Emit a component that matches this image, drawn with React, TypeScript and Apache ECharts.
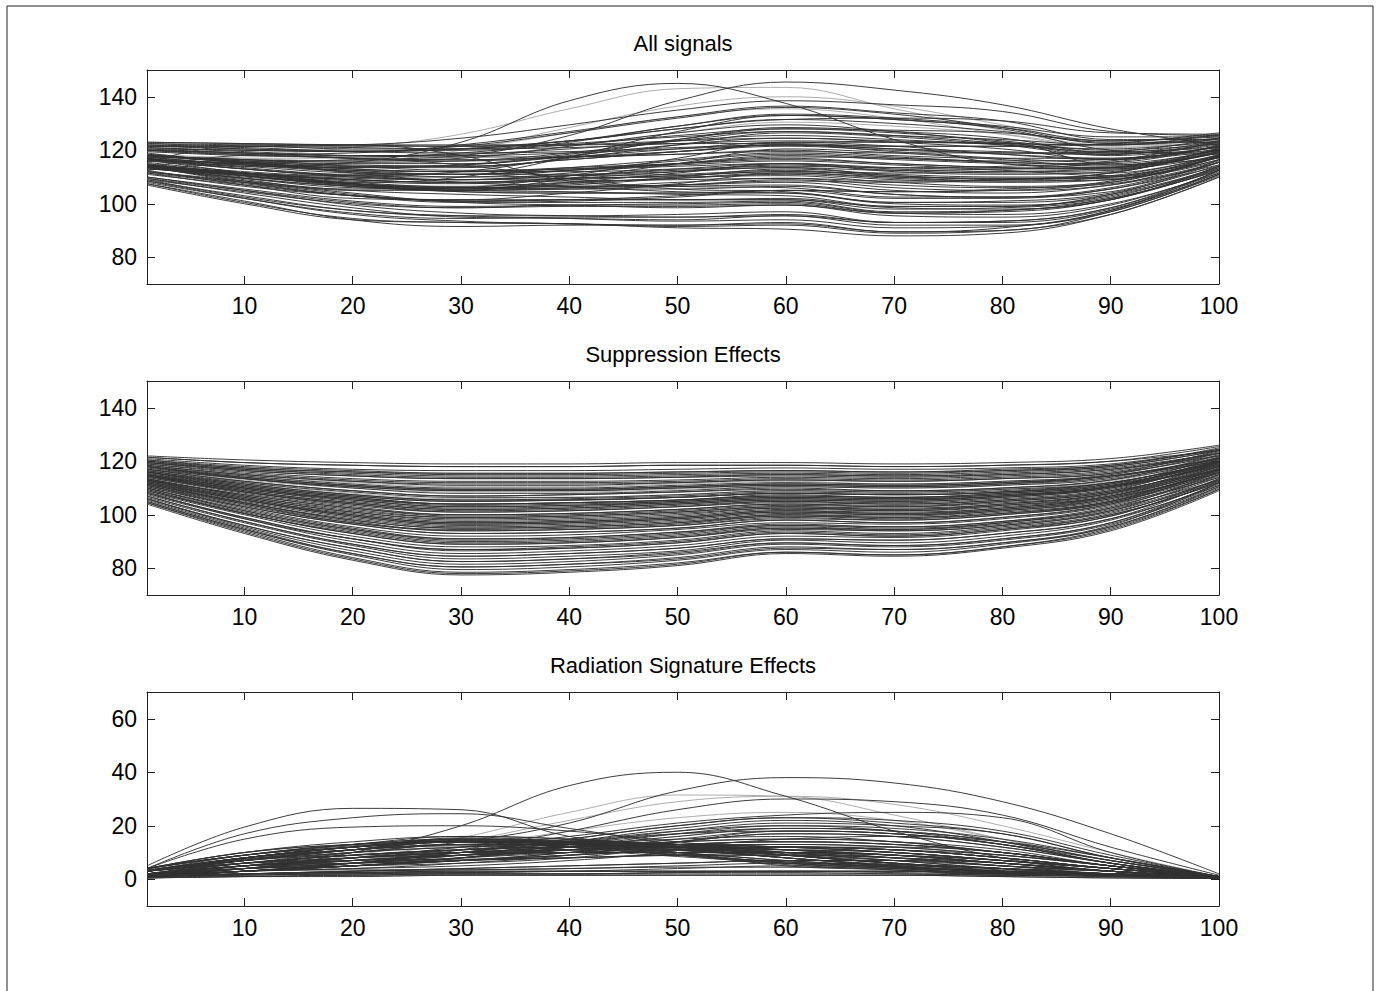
import React, { useEffect, useRef } from "react";
import * as echarts from "echarts";

const xPositions = [1, 10, 20, 30, 40, 50, 60, 70, 80, 90, 100];
const xTicks = [10, 20, 30, 40, 50, 60, 70, 80, 90, 100];
const yTicksSignal = [80, 100, 120, 140];
const yTicksRadiation = [0, 20, 40, 60];
const titles = ["All signals", "Suppression Effects", "Radiation Signature Effects"];

// Suppression effect curves, sampled at xPositions
const suppression: number[][] = [
  [122, 120.5, 119.5, 119, 119, 119.5, 119.5, 119, 119.5, 121, 126],
  [121.5, 119.5, 118.5, 118, 118, 118.5, 118.5, 118, 118.5, 120, 125.5],
  [121, 118.5, 117, 116.5, 116.5, 117, 117.5, 117, 117.5, 119, 124.5],
  [120.5, 118, 116.5, 115.5, 115.5, 116, 116.5, 116, 117, 118.5, 125],
  [120, 117, 115.5, 114.5, 114.5, 115, 115.5, 115, 116, 118, 124],
  [119.5, 116.5, 114.5, 113.5, 113.5, 114, 115, 114.5, 115, 117, 123],
  [119, 116, 113.5, 112.5, 112.5, 113, 114, 113.5, 114.5, 116.5, 123.5],
  [118.5, 115, 112.5, 111.5, 111.5, 112, 113, 112.5, 113.5, 115.5, 122],
  [118.5, 114.5, 112, 110.5, 110.5, 111.5, 112.5, 111.5, 112.5, 115, 122.5],
  [118, 114, 111, 109.5, 109.5, 110.5, 111.5, 111, 112, 114.5, 121],
  [117.5, 113, 110, 108.5, 108.5, 109.5, 110.5, 110, 111, 114, 122],
  [117, 112.5, 109, 107, 107.5, 108.5, 110, 109, 110, 113, 120.5],
  [116.5, 112, 108, 106, 106.5, 107.5, 109, 108.5, 109.5, 112.5, 121],
  [116, 111, 107, 105, 105.5, 106.5, 108, 107.5, 108.5, 112, 119.5],
  [115.5, 110.5, 106.5, 104, 104.5, 105.5, 107.5, 106.5, 108, 111, 120],
  [115, 110, 105.5, 103, 103.5, 105, 106.5, 106, 107, 110.5, 118.5],
  [115, 109, 104.5, 102, 102.5, 104, 105.5, 105, 106.5, 110, 119],
  [114.5, 108.5, 104, 101, 101.5, 103, 105, 104, 105.5, 109, 120],
  [114, 108, 103, 100, 100.5, 102, 104, 103, 105, 108.5, 118.5],
  [113.5, 107, 102, 99, 99.5, 101, 103, 102.5, 104, 108, 117],
  [113, 106.5, 101, 98, 98.5, 100, 102.5, 101.5, 103.5, 107.5, 117.5],
  [112.5, 106, 100, 97, 97.5, 99, 101.5, 101, 102.5, 107, 118],
  [112, 105, 99, 96, 96.5, 98, 100.5, 100, 101.5, 106, 116.5],
  [111.5, 104.5, 98, 95, 95.5, 97, 100, 99, 101, 105, 115.5],
  [111, 104, 97.5, 94, 94.5, 96, 99, 98, 100, 104.5, 116],
  [111, 103, 96.5, 93, 93.5, 95, 98, 97, 99, 104, 117],
  [110.5, 102.5, 95.5, 92, 92.5, 94.5, 97, 96.5, 98.5, 103.5, 115],
  [110, 102, 95, 91, 91.5, 93.5, 96.5, 95.5, 97.5, 103, 114.5],
  [109.5, 101, 94, 90, 90.5, 92.5, 95.5, 94.5, 97, 102, 114],
  [109, 100.5, 93, 89, 89.5, 91.5, 95, 94, 96, 101.5, 115],
  [108.5, 100, 92, 88, 88.5, 90.5, 94, 93, 95.5, 100.5, 113.5],
  [108, 99, 91, 87, 87.5, 89.5, 93, 92, 94.5, 100, 112],
  [107.5, 98.5, 90, 85.5, 86.5, 88.5, 92, 91.5, 94, 99.5, 112.5],
  [107, 97.5, 89, 84.5, 85.5, 87.5, 91, 90.5, 93, 98.5, 113],
  [106.5, 97, 88.5, 83.5, 84.5, 86.5, 90.5, 89.5, 92, 98, 111.5],
  [106, 96, 87.5, 82.5, 83.5, 86, 89.5, 88.5, 91, 97, 111],
  [106, 95.5, 86.5, 81.5, 82.5, 85, 89, 88, 90.5, 96.5, 110.5],
  [105.5, 95, 85.5, 80.5, 81.5, 84, 88, 87, 89.5, 96, 112],
  [105, 94.5, 85, 79.5, 80.5, 83, 87, 86, 89, 95.5, 110],
  [104.5, 94, 84, 78.5, 79.5, 82, 86, 85, 88, 95, 109.5],
  [104, 93, 83, 77.5, 78.5, 81, 85.5, 84.5, 87.5, 94, 109],
  [117, 113.5, 110.5, 109, 109, 110, 111, 110.5, 111.5, 114, 121.5],
  [116, 111.5, 107.5, 105.5, 106, 107, 108.5, 108, 109, 112, 120],
  [114.5, 109.5, 105, 102.5, 103, 104.5, 106, 105.5, 107, 110.5, 119.5],
  [113.5, 107.5, 102.5, 99.5, 100, 101.5, 103.5, 103, 104.5, 108, 118],
  [112.5, 105.5, 99.5, 96.5, 97, 98.5, 101, 100.5, 102, 106.5, 117],
  [111.5, 104, 97, 94.5, 95, 96.5, 99.5, 98.5, 100.5, 105, 116.5],
  [119, 115.5, 113, 112, 112, 112.5, 113.5, 113, 114, 116, 123],
  [110, 101.5, 94.5, 90.5, 91, 93, 96, 95, 97, 102.5, 113],
  [118, 113.5, 110.5, 109, 109, 110, 111, 110.5, 111.5, 114.5, 121],
  [121.5, 119.5, 118.5, 118, 118, 118.5, 118.5, 118, 118.5, 120, 124],
  [120.5, 117.5, 116, 115, 115, 115.5, 116, 115.5, 116.5, 118.5, 124.5],
  [119.5, 116.5, 114.5, 113.5, 113.5, 114, 114.5, 114, 115, 117, 122],
  [118.5, 115, 112.5, 111, 111, 112, 113, 112.5, 113.5, 115.5, 124],
  [118, 114, 111, 109.5, 109.5, 110.5, 111.5, 111, 112, 114.5, 120],
  [117, 112.5, 109, 107, 107.5, 108.5, 109.5, 109, 110, 113, 122.5],
  [116, 111, 107, 105, 105.5, 106.5, 108, 107.5, 108.5, 111.5, 119],
  [115, 109.5, 105.5, 103, 103.5, 104.5, 106, 105.5, 107, 110.5, 121],
  [114.5, 108.5, 103.5, 101, 101.5, 103, 104.5, 104, 105.5, 109, 117],
  [113.5, 107, 101.5, 99, 99.5, 101, 103, 102, 104, 108, 119.5],
  [112.5, 105.5, 100, 97, 97.5, 99, 101.5, 100.5, 102.5, 106.5, 115.5],
  [111.5, 104.5, 98, 95, 95.5, 97, 99.5, 99, 100.5, 105, 117.5],
  [110.5, 103, 96.5, 93, 93.5, 95, 98, 97, 99, 104, 114],
  [110, 101.5, 94.5, 91, 91.5, 93.5, 96, 95.5, 97.5, 102.5, 116],
  [109, 100.5, 93, 89, 89.5, 91.5, 94.5, 94, 96, 101, 112.5],
  [108, 99, 91, 86.5, 87.5, 89.5, 93, 92, 94.5, 99.5, 113.5],
  [107, 97.5, 89, 84.5, 85.5, 87.5, 91, 90.5, 93, 98.5, 111],
  [106, 96, 87.5, 82.5, 83.5, 85.5, 89.5, 88.5, 91, 97, 112],
  [105, 94.5, 85.5, 80.5, 81.5, 83.5, 87.5, 87, 89.5, 95.5, 110.5],
  [104.5, 93.5, 83.5, 78, 79, 81.5, 86, 85, 88, 94.5, 109.5],
  [119.5, 117, 115, 114, 114, 114.5, 115, 114.5, 115.5, 117.5, 123],
  [118, 114.5, 111.5, 110, 110, 111, 112, 111.5, 112.5, 115, 123],
  [117.5, 113.5, 110, 108, 108, 109, 110.5, 110, 111, 113.5, 121],
  [116.5, 112, 108.5, 106.5, 106.5, 107.5, 109, 108.5, 109.5, 112, 120],
  [115.5, 110, 106, 104, 104.5, 105.5, 107, 106.5, 107.5, 110.5, 118],
  [114, 108.5, 104, 101.5, 102, 103.5, 105, 104.5, 106, 109.5, 119],
  [113, 106.5, 101, 98.5, 99, 100.5, 102.5, 102, 103.5, 107, 117],
  [112, 105.5, 99.5, 96.5, 97, 98.5, 101, 100, 102, 106, 116],
  [116.5, 111.5, 107.5, 105.5, 105.5, 106.5, 108, 107.5, 108.5, 111.5, 121.5],
  [115, 110, 106, 103.5, 104, 105, 106.5, 106, 107.5, 110.5, 120.5],
  [113, 107.5, 102.5, 100, 100.5, 102, 104, 103.5, 105, 108.5, 118],
  [111, 103.5, 97, 94, 94.5, 96, 98.5, 98, 100, 104.5, 115],
  [109.5, 100.5, 93.5, 89.5, 90, 92, 95, 94.5, 96.5, 101.5, 113],
  [108.5, 98.5, 91, 87, 88, 90, 93.5, 92.5, 95, 100, 112],
  [117.5, 114, 111, 109.5, 109.5, 110.5, 111.5, 111, 112, 114.5, 121.5],
  [114.5, 109, 104.5, 102, 102.5, 104, 105.5, 105, 106.5, 110, 118.5],
  [112, 104.5, 98.5, 95.5, 96, 97.5, 100, 99.5, 101.5, 105.5, 116.5],
  [120, 117.5, 116, 115.5, 115.5, 116, 116.5, 116, 116.5, 118, 124],
  [116, 110.5, 106.5, 104, 104.5, 105.5, 107, 106.5, 108, 111, 119.5],
  [113, 106, 100.5, 97.5, 98, 99.5, 102, 101.5, 103, 107, 117],
];

// Radiation signature curves, sampled at xPositions (paired with suppression by index)
const radiation: number[][] = [
  [1, 2, 2.5, 3, 3, 3, 3, 2.5, 2, 1.5, 0.5],
  [1.5, 3, 3.5, 3.5, 4, 5, 6, 5.5, 4, 2, 0.5],
  [1, 3, 5, 8, 13, 18, 21, 20, 17, 8, 1],
  [2, 4, 5, 6, 8, 12, 15, 16, 14, 8, 1],
  [1, 3, 4, 6, 9, 14, 18, 17, 13, 7, 1],
  [2, 5, 6, 7, 9, 11, 12, 11, 9, 5, 1],
  [1.5, 4, 6, 9, 14, 19, 22, 20, 14, 6, 1],
  [3, 6, 7, 7.5, 8, 9, 9, 8, 6, 3, 1],
  [1, 4, 9, 15.5, 25, 31.5, 31, 24, 15, 7, 1],
  [2, 5, 6, 7, 8, 9, 10, 9, 7, 4, 1],
  [1, 4, 7, 12, 18, 23, 25, 22, 15, 7, 1],
  [3, 6, 8, 9, 10, 10, 10, 9, 7, 4, 1],
  [1, 4, 8, 14, 22, 29, 31, 28, 20, 10, 1],
  [2, 5, 7, 9, 11, 13, 14, 13, 10, 5, 1],
  [1, 5, 10, 14, 21, 33, 38, 36, 29, 17, 2],
  [2, 4, 10, 20, 35, 40, 31, 18, 8, 3, 1],
  [2, 4, 6, 8, 10, 12, 13, 12, 9, 5, 1],
  [3, 6, 8, 10, 11, 12, 12, 11, 8, 4, 1],
  [2, 5, 7, 9, 10, 11, 11, 10, 7, 4, 1],
  [1, 3, 6, 11, 18, 26, 30, 29, 24, 12, 1.5],
  [2, 5, 8, 10, 11, 12, 12, 11, 8, 4, 1],
  [1, 3, 5, 8, 12, 16, 19, 18, 14, 7, 1],
  [4, 10, 13, 14, 14, 13, 12, 10, 7, 4, 1],
  [2, 6, 9, 11, 12, 13, 13, 12, 9, 5, 1],
  [1, 4, 8, 12, 16, 21, 24, 25, 23, 10, 1],
  [3, 8, 11, 13, 13, 12, 11, 9, 6, 3, 1],
  [5, 19.5, 26.5, 26, 16, 12, 9, 6, 4, 2, 0.5],
  [3, 9, 13, 15, 14, 12, 10, 8, 5, 3, 1],
  [4, 17, 23, 24.5, 19, 13, 9, 6, 4, 2, 0.5],
  [4, 10, 14, 16, 15, 12, 8, 5, 3, 2, 0.5],
  [4, 15, 19.5, 20, 18, 14, 10, 7, 4, 2, 0.5],
  [3, 8, 12, 14, 13, 11, 8, 5, 3, 2, 0.5],
  [4, 9, 13, 16, 15, 13, 10, 7, 4, 2, 0.5],
  [2, 7, 11, 14, 14, 12, 9, 6, 4, 3, 0.5],
  [3, 8, 12, 15, 14.5, 12.5, 9, 6, 3, 1.5, 0.5],
  [4, 9, 12, 14, 12, 9, 6.5, 4.5, 2.5, 1.5, 0.5],
  [3, 7, 11, 14, 13, 11, 8, 5, 2.5, 1.5, 0.5],
  [3, 8, 12, 15, 13, 9.5, 6, 4, 2, 1.5, 0.5],
  [3.5, 7.5, 11, 14, 12, 9, 5.5, 3.5, 2, 2, 1],
  [3, 7, 10, 13, 12.5, 10, 7, 4.5, 2, 2, 1],
  [3, 7, 11, 15.5, 14, 10, 5, 3.5, 1.5, 2, 1],
  [1, 3, 5, 7, 10, 14, 17, 16, 12, 6, 1],
  [2, 4, 6, 8, 11, 15, 18, 17, 13, 6, 1],
  [3, 7, 9, 10, 10, 10, 10, 9, 6, 3, 1],
  [0.5, 1, 1.5, 1.5, 1.5, 1.5, 1.5, 1.5, 1, 0.5, 0.3],
  [2, 6, 9, 11, 12, 12, 11, 10, 7, 4, 1],
  [1, 3, 5, 7, 9, 11, 12, 11, 8, 4, 1],
  [1, 3, 6, 10, 15, 20, 23, 21, 17, 8, 1],
  [4, 10, 13, 14, 13, 11, 9, 7, 5, 3, 1],
  [1, 1.5, 2, 2, 2, 2.5, 2.5, 2, 1.5, 1, 0.3],
  [1, 2, 2.5, 2.5, 3, 4, 5, 5, 4, 2, 0.5],
  [1.5, 3, 4, 5, 7, 10, 12, 12, 10, 5, 1],
  [2, 4, 5, 7, 10, 14, 17, 16, 12, 6, 1],
  [1, 3, 5, 8, 12, 17, 20, 19, 15, 8, 1],
  [2, 5, 7, 9, 11, 13, 14, 13, 10, 5, 1],
  [1, 4, 7, 10, 14, 18, 20, 18, 13, 6, 1],
  [2, 5, 8, 10, 12, 14, 15, 14, 10, 5, 1],
  [3, 6, 9, 11, 13, 15, 16, 14, 10, 5, 1],
  [2, 6, 9, 11, 12, 12, 12, 11, 8, 4, 1],
  [3, 7, 10, 12, 13, 13, 12, 10, 7, 4, 1],
  [2, 6, 10, 12, 13, 13, 12, 10, 7, 3, 0.5],
  [3, 7, 11, 13, 14, 13, 11, 9, 6, 3, 0.5],
  [3, 8, 11, 13, 13, 12, 10, 8, 5, 3, 0.5],
  [4, 9, 12, 14, 14, 13, 11, 8, 5, 2, 0.5],
  [3, 8, 12, 14.5, 13, 10, 7, 5, 3, 2, 0.5],
  [4, 9, 12.5, 14, 12, 9, 6.5, 4.5, 3, 2, 0.5],
  [3, 8, 12, 14.5, 14, 12.5, 9.5, 6, 3, 1.5, 0.5],
  [3.5, 8, 11, 12.5, 11, 8.5, 6, 4.5, 2.5, 1.5, 0.5],
  [3, 7.5, 11, 14, 13.5, 11.5, 8, 5, 2.5, 1.5, 0.5],
  [3, 7, 11, 15, 13.5, 10, 6, 4, 2, 1.5, 0.5],
  [1, 2, 3, 4, 5, 6, 7, 7, 6, 3, 0.5],
  [0.5, 1, 1.5, 2, 2, 2, 2, 2, 1.5, 1, 0.3],
  [1, 2, 3, 4, 5, 6, 7, 7, 5, 3, 0.5],
  [0.5, 1.5, 2, 2.5, 3, 3, 3, 3, 2.5, 1.5, 0.3],
  [1, 3, 5, 7, 9, 11, 12, 11, 8, 4, 1],
  [1, 2, 3, 3.5, 4, 4.5, 4.5, 4, 3, 2, 0.5],
  [1, 3, 5, 7, 8, 9, 9, 8, 6, 3, 0.5],
  [2, 5, 8, 10, 11, 11, 10, 9, 6, 3, 0.5],
  [1, 3, 6, 9, 13, 17, 19, 18, 14, 7, 1],
  [2, 5, 8, 11, 14, 17, 18, 17, 13, 6, 1],
  [1.5, 4, 7, 9, 11, 13, 14, 13, 10, 5, 1],
  [3, 8, 12, 14, 14, 13, 11, 9, 6, 3, 0.5],
  [4, 9, 13, 15, 14, 12, 9, 6, 4, 2, 0.5],
  [3, 8, 12, 14, 13.5, 11.5, 8, 5.5, 3.5, 2, 0.5],
  [1, 3, 5, 8, 12, 16, 19, 18, 14, 7, 1],
  [1, 3, 6, 10, 15, 20, 23, 22, 18, 9, 1],
  [2, 5, 8, 10, 12, 14, 15, 14, 11, 5, 1],
  [1, 2, 2, 2, 2, 2.5, 3, 3, 2.5, 1.5, 0.5],
  [0.5, 1, 1, 1.5, 1.5, 1.5, 1.5, 1.5, 1, 0.5, 0.3],
  [1, 2, 2.5, 3, 3, 3, 3, 3, 2, 1, 0.3],
];

// Curves drawn in light grey in the reference
const lightCurves = [8, 12, 10, 84];

const FONT = "'Liberation Sans', Arial, Helvetica, sans-serif";

export default function App() {
  const ref = useRef<HTMLDivElement>(null);

  useEffect(() => {
    if (!ref.current) return;
    const chart = echarts.init(ref.current, null, { renderer: "svg" });

    // All signals = suppression + radiation, curve by curve
    const allSignals = suppression.map((s, i) => s.map((v, j) => v + radiation[i][j]));
    const panels = [allSignals, suppression, radiation];

    const gridTops = [70, 381, 692];
    const grids = gridTops.map((top) => ({
      left: 147,
      top,
      width: 1072,
      height: 214,
      show: false,
    }));

    const xAxes: any[] = [];
    const yAxes: any[] = [];
    gridTops.forEach((_, g) => {
      const common = {
        gridIndex: g,
        type: "value",
        min: 1,
        max: 100,
        splitLine: { show: false },
        axisLine: { show: true, onZero: false, lineStyle: { color: "#222", width: 1 } },
        axisTick: { show: true, inside: true, length: 8, customValues: xTicks, lineStyle: { color: "#222" } },
      };
      xAxes.push({
        ...common,
        position: "bottom",
        axisLabel: { show: true, customValues: xTicks, fontSize: 23, color: "#000", fontFamily: FONT, margin: 10 },
      });
      xAxes.push({ ...common, position: "top", axisLabel: { show: false } });

      const yMin = g === 2 ? -10 : 70;
      const yMax = g === 2 ? 70 : 150;
      const yt = g === 2 ? yTicksRadiation : yTicksSignal;
      const ycommon = {
        gridIndex: g,
        type: "value",
        min: yMin,
        max: yMax,
        splitLine: { show: false },
        axisLine: { show: true, onZero: false, lineStyle: { color: "#222", width: 1 } },
        axisTick: { show: true, inside: true, length: 8, customValues: yt, lineStyle: { color: "#222" } },
      };
      yAxes.push({
        ...ycommon,
        position: "left",
        axisLabel: { show: true, customValues: yt, fontSize: 23, color: "#000", fontFamily: FONT, margin: 10 },
      });
      yAxes.push({ ...ycommon, position: "right", axisLabel: { show: false } });
    });

    const series: any[] = [];
    panels.forEach((curves, g) => {
      curves.forEach((curve, k) => {
        const light = lightCurves.includes(k);
        series.push({
          type: "line",
          xAxisIndex: g * 2,
          yAxisIndex: g * 2,
          data: xPositions.map((x, j) => [x, curve[j]]),
          smooth: 0.4,
          showSymbol: false,
          silent: true,
          lineStyle: { width: 1, color: light ? "#a9a9a9" : "#333", opacity: 0.95 },
          z: light ? 1 : 2,
        });
      });
    });

    const titleYs = [43, 354, 665];
    chart.setOption({
      animation: false,
      backgroundColor: "#fff",
      grid: grids,
      xAxis: xAxes,
      yAxis: yAxes,
      series,
      graphic: [
        {
          type: "rect",
          shape: { x: 7, y: 6, width: 1366, height: 1000 },
          style: { fill: "none", stroke: "#222", lineWidth: 1 },
          silent: true,
        },
        ...titles.map((t, i) => ({
          type: "text",
          x: 683,
          y: titleYs[i],
          style: {
            text: t,
            fontSize: 22,
            fontFamily: FONT,
            fill: "#000",
            align: "center",
            verticalAlign: "middle",
          },
          silent: true,
        })),
      ],
    });

    return () => chart.dispose();
  }, []);

  return (
    <div
      ref={ref}
      style={{ position: "absolute", left: 0, top: 0, width: 1377, height: 991, background: "#fff" }}
    />
  );
}
